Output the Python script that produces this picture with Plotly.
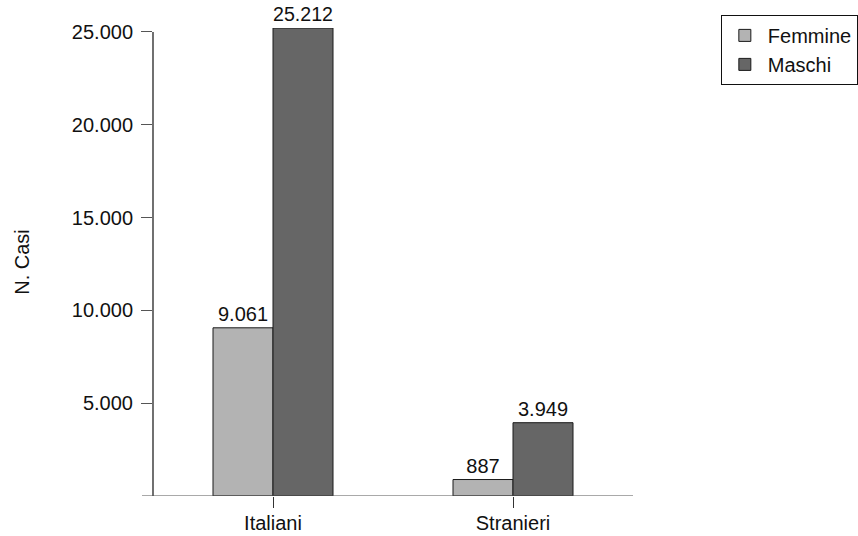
import plotly.graph_objects as go

categories = ["Italiani", "Stranieri"]
femmine = [9061, 887]
maschi = [25212, 3949]
series_names = ["Femmine", "Maschi"]
tick_vals = [5000, 10000, 15000, 20000, 25000]
tick_text = ["5.000", "10.000", "15.000", "20.000", "25.000"]


def fmt(v):
    return f"{v:,}".replace(",", ".")


FONT = "Liberation Sans, Arial, Helvetica, sans-serif"
y_top = max(maschi + femmine)

fig = go.Figure()
fig.add_trace(go.Bar(
    x=categories, y=femmine, name=series_names[0],
    marker=dict(color="#b3b3b3", line=dict(color="#1a1a1a", width=1)),
    text=[fmt(v) for v in femmine], textposition="outside", cliponaxis=False,
    textfont=dict(size=20, color="#111111"),
))
fig.add_trace(go.Bar(
    x=categories, y=maschi, name=series_names[1],
    marker=dict(color="#666666", line=dict(color="#1a1a1a", width=1)),
    text=[fmt(v) for v in maschi], textposition="outside", cliponaxis=False,
    textfont=dict(size=20, color="#111111"),
))

fig.update_layout(
    width=858, height=536,
    margin=dict(l=153, r=225, t=28, b=40, autoexpand=False),
    paper_bgcolor="white", plot_bgcolor="white",
    font=dict(family=FONT, size=20, color="#111111"),
    barmode="group", bargap=0.5, bargroupgap=0,
    showlegend=True,
    legend=dict(
        x=1.183, y=1.028, xanchor="left", yanchor="top",
        bordercolor="#111111", borderwidth=1, bgcolor="white",
        font=dict(size=20), itemwidth=36, tracegroupgap=0,
    ),
    xaxis=dict(
        showline=False, showgrid=False, zeroline=False,
        ticks="outside", ticklen=11, tickcolor="#333333", tickwidth=1,
        range=[-0.5, 1.5], tickfont=dict(size=20), ticklabelstandoff=-2,
    ),
    yaxis=dict(
        range=[0, y_top], showline=False, showgrid=False, zeroline=False,
        tickvals=tick_vals, ticktext=tick_text,
        ticks="outside", ticklen=11, tickcolor="#555555", tickwidth=1,
        tickfont=dict(size=20), ticklabelstandoff=4,
        title=dict(text="N. Casi", font=dict(size=20), standoff=36),
    ),
    shapes=[
        dict(type="line", xref="paper", yref="y", x0=0, x1=0, y0=-650, y1=tick_vals[-1],
             line=dict(color="#111111", width=1.2)),
        dict(type="line", xref="paper", yref="y", x0=-0.023, x1=1, y0=0, y1=0,
             line=dict(color="#555555", width=1.2)),
    ],
)

fig.write_html(
    "out.html",
    config={"displayModeBar": False},
    post_script="document.body.style.margin='0';",
)
